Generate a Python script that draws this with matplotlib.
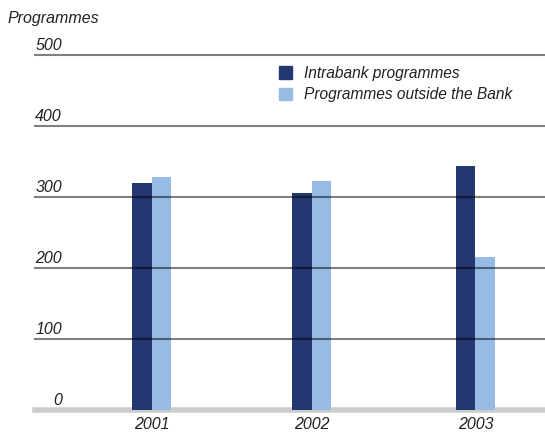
import matplotlib.pyplot as plt
from matplotlib.patches import Patch
import numpy as np

plt.rcParams['font.family'] = ['Liberation Sans', 'DejaVu Sans']

years = ['2001', '2002', '2003']
intrabank = [320, 306, 344]
outside = [328, 323, 216]
yticks = [0, 100, 200, 300, 400, 500]

DARK = '#233870'
LIGHT = '#96bce6'
TXT = '#222222'

fig = plt.figure(figsize=(5.45, 4.32), dpi=100)
ax = fig.add_axes([35 / 545, 22 / 432, 1 - 35 / 545, (410 - 55) / 432])

x = np.array([0, 0.99, 2.0])
w = 0.12
ax.bar(x - w / 2, intrabank, w, color=DARK, zorder=2)
ax.bar(x + w / 2, outside, w, color=LIGHT, zorder=2)

ax.set_xlim(-0.72, 2.43)
ax.set_ylim(0, 500)

for s in ax.spines.values():
    s.set_visible(False)
ax.set_yticks([])
ax.set_xticks(x)
ax.set_xticklabels(years, fontsize=11.5, style='italic', color=TXT)
ax.tick_params(axis='x', length=0, pad=5)

for v in yticks[1:]:
    ax.axhline(v, color='black', alpha=0.5, lw=1.5, zorder=3, clip_on=False)
ax.axhline(0, color='#cccccc', lw=4, zorder=1, clip_on=False)

# y labels sit just above their gridlines, right-aligned
for v in yticks:
    ax.text((62 - 35) / 510, v + 3, str(v), transform=ax.get_yaxis_transform(),
            ha='right', va='bottom', fontsize=11.5, style='italic', color=TXT)

fig.text(8 / 545, 1 - 18 / 432, 'Programmes', fontsize=11.5, style='italic',
         color=TXT, va='center', ha='left')

handles = [Patch(color=DARK, label='Intrabank programmes'),
           Patch(color=LIGHT, label='Programmes outside the Bank')]
leg = fig.legend(handles=handles, loc='upper left', bbox_to_anchor=(279 / 545, 1 - 66 / 432),
                 frameon=False, fontsize=11.2, handlelength=0.85, handleheight=0.85,
                 handletextpad=0.75, labelspacing=0.4, borderpad=0, borderaxespad=0)
for t in leg.get_texts():
    t.set_style('italic')
    t.set_color(TXT)

fig.savefig('out.png', dpi=100)
